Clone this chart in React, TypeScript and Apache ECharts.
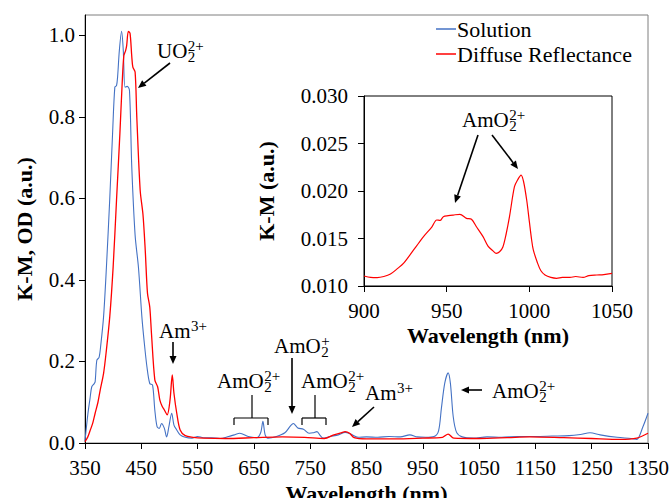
import React, { useEffect, useRef } from "react";
import * as echarts from "echarts";

const FONT = "Liberation Serif";

// Main panel: Solution (OD)
const solutionNm = [350, 355, 359, 362, 366, 368, 371, 375, 378, 383, 388, 394, 399, 403, 406, 408, 411, 415, 418, 421, 425, 429, 433, 439, 445, 451, 455, 460, 465, 470, 474, 478, 482, 486, 491, 495, 499, 504, 508, 513, 519, 528, 540, 550, 560, 575, 590, 605, 615, 625, 640, 655, 662, 666, 670, 675, 690, 705, 715, 720, 728, 738, 748, 755, 762, 768, 773, 785, 800, 812, 822, 835, 850, 870, 890, 910, 927, 940, 955, 970, 978, 983, 989, 995, 999, 1004, 1010, 1020, 1040, 1064, 1090, 1120, 1150, 1180, 1210, 1230, 1247, 1265, 1295, 1320, 1330, 1341, 1350];
const solutionValue = [0.005, 0.07, 0.11, 0.138, 0.145, 0.15, 0.203, 0.21, 0.24, 0.31, 0.43, 0.6, 0.76, 0.873, 0.877, 0.9, 0.963, 1.01, 0.963, 0.873, 0.875, 0.865, 0.68, 0.51, 0.43, 0.31, 0.25, 0.187, 0.146, 0.142, 0.081, 0.04, 0.036, 0.048, 0.036, 0.015, 0.04, 0.073, 0.044, 0.032, 0.02, 0.014, 0.012, 0.016, 0.013, 0.013, 0.011, 0.016, 0.02, 0.024, 0.016, 0.013, 0.025, 0.053, 0.02, 0.012, 0.016, 0.025, 0.042, 0.048, 0.037, 0.034, 0.024, 0.025, 0.028, 0.018, 0.012, 0.016, 0.02, 0.026, 0.022, 0.014, 0.015, 0.014, 0.016, 0.015, 0.02, 0.015, 0.014, 0.016, 0.03, 0.085, 0.147, 0.172, 0.147, 0.065, 0.026, 0.015, 0.012, 0.015, 0.014, 0.016, 0.016, 0.017, 0.018, 0.021, 0.025, 0.02, 0.014, 0.011, 0.009, 0.04, 0.073];

// Main panel: Diffuse Reflectance (K-M)
const diffuseNm = [350, 355, 359, 364, 368, 373, 377, 383, 388, 394, 400, 406, 412, 416, 419, 422, 424, 427, 430, 433, 435, 439, 442, 448, 453, 457, 461, 465, 468, 474, 479, 483, 487, 491, 496, 501, 505, 508, 513, 519, 528, 542, 560, 600, 650, 700, 740, 775, 792, 805, 812, 820, 828, 850, 900, 950, 985, 995, 1005, 1050, 1100, 1140, 1200, 1250, 1300, 1330, 1350];
const diffuseValue = [0.003, 0.015, 0.03, 0.05, 0.073, 0.1, 0.13, 0.171, 0.228, 0.31, 0.432, 0.596, 0.76, 0.882, 0.95, 0.962, 0.975, 1.01, 1.005, 0.95, 0.922, 0.91, 0.8, 0.62, 0.56, 0.473, 0.367, 0.334, 0.27, 0.155, 0.138, 0.105, 0.09, 0.081, 0.069, 0.105, 0.167, 0.122, 0.073, 0.032, 0.018, 0.014, 0.012, 0.011, 0.013, 0.015, 0.014, 0.011, 0.02, 0.025, 0.028, 0.024, 0.013, 0.01, 0.01, 0.012, 0.014, 0.022, 0.012, 0.011, 0.013, 0.015, 0.013, 0.011, 0.009, 0.012, 0.024];

// Inset: Diffuse Reflectance 900-1050 nm
const insetNm = [900, 904, 908, 912, 916, 920, 924, 930, 933, 936, 941, 944, 946, 948, 951, 954, 958, 962, 965, 968, 972, 975, 978, 980, 982, 984, 986, 988, 991, 993, 995, 996.5, 998.4, 1000, 1001.4, 1002.4, 1005, 1007, 1009.5, 1013, 1016.5, 1020, 1024.6, 1028, 1032.5, 1036, 1040.8, 1045, 1050];
const insetValue = [0.01105, 0.0109, 0.01088, 0.011, 0.01126, 0.0118, 0.0124, 0.0138, 0.0145, 0.0152, 0.0162, 0.01695, 0.0169, 0.0173, 0.0174, 0.01747, 0.01755, 0.01712, 0.01702, 0.01624, 0.0152, 0.0142, 0.0137, 0.01344, 0.0136, 0.0141, 0.0155, 0.0173, 0.02045, 0.0212, 0.02168, 0.021, 0.01905, 0.0168, 0.01484, 0.0138, 0.0124, 0.0116, 0.01116, 0.0109, 0.01081, 0.0109, 0.0109, 0.011, 0.0109, 0.0111, 0.01116, 0.0112, 0.01133];

const mainYTicks = [0, 0.2, 0.4, 0.6, 0.8, 1.0];
const seriesNames = ["Solution", "Diffuse Reflectance"];

const zip = (xs: number[], ys: number[]) => xs.map((x, i) => [x, ys[i]]);

function measure(text: string, size: number) {
  const c = document.createElement("canvas").getContext("2d");
  if (!c) return text.length * size * 0.5;
  c.font = `${size}px "${FONT}"`;
  return c.measureText(text).width;
}

function chem(x: number, baseline: number, base: string, sub: string, sup: string, size = 21) {
  const small = 15;
  const w = measure(base, size);
  const els: any[] = [
    { type: "text", x, y: baseline - 0.33 * size, style: { text: base, fontFamily: FONT, fontSize: size, fill: "#000", align: "left", verticalAlign: "middle" } },
  ];
  if (sub) els.push({ type: "text", x: x + w + 0.5, y: baseline - 1, style: { text: sub, fontFamily: FONT, fontSize: small, fill: "#000", align: "left", verticalAlign: "middle" } });
  if (sup) els.push({ type: "text", x: x + w + 0.5, y: baseline - 12, style: { text: sup, fontFamily: FONT, fontSize: small, fill: "#000", align: "left", verticalAlign: "middle" } });
  return els;
}

function arrow(x1: number, y1: number, x2: number, y2: number) {
  const dx = x2 - x1, dy = y2 - y1;
  const len = Math.sqrt(dx * dx + dy * dy);
  const ux = dx / len, uy = dy / len;
  const hl = 8, hw = 3.5;
  const bx = x2 - ux * hl, by = y2 - uy * hl;
  return [
    { type: "line", shape: { x1, y1, x2: bx, y2: by }, style: { stroke: "#000", lineWidth: 1.6 } },
    { type: "polygon", shape: { points: [[x2, y2], [bx - uy * hw, by + ux * hw], [bx + uy * hw, by - ux * hw]] }, style: { fill: "#000" } },
  ];
}

function bracket(xl: number, xr: number, xm: number, y: number, yTop: number, yEnd: number) {
  return [
    { type: "line", shape: { x1: xl, y1: yEnd, x2: xl, y2: y }, style: { stroke: "#000", lineWidth: 1.2 } },
    { type: "line", shape: { x1: xl, y1: y, x2: xr, y2: y }, style: { stroke: "#000", lineWidth: 1.2 } },
    { type: "line", shape: { x1: xr, y1: y, x2: xr, y2: yEnd }, style: { stroke: "#000", lineWidth: 1.2 } },
    { type: "line", shape: { x1: xm, y1: y, x2: xm, y2: yTop }, style: { stroke: "#000", lineWidth: 1.2 } },
  ];
}

export default function App() {
  const ref = useRef<HTMLDivElement>(null);
  useEffect(() => {
    if (!ref.current) return;
    const chart = echarts.init(ref.current, undefined, { renderer: "svg" });
    const axisText = { fontFamily: FONT, fontSize: 21, color: "#000" };
    const nameText = { fontFamily: FONT, fontSize: 22, fontWeight: "bold" as const, color: "#000" };
    const blackLine = { lineStyle: { color: "#000", width: 1 } };

    const graphic: any[] = [
      ...chem(157, 58, "UO", "2", "2+"),
      ...arrow(170, 63, 138, 88),
      ...chem(159, 338, "Am", "", "3+"),
      ...arrow(173, 342, 173, 364),
      ...chem(274, 353, "AmO", "2", "+"),
      ...arrow(292, 358, 292, 414),
      ...chem(217, 388, "AmO", "2", "2+"),
      ...bracket(234, 268, 252, 418, 395, 425),
      ...chem(301, 388, "AmO", "2", "2+"),
      ...bracket(302, 326, 315, 418, 395, 425),
      ...chem(365, 400, "Am", "", "3+"),
      ...arrow(374, 407, 352, 427),
      ...chem(492, 398, "AmO", "2", "2+"),
      ...arrow(482, 390, 461, 390),
      ...chem(462, 127, "AmO", "2", "2+"),
      ...arrow(478, 135, 455, 203),
      ...arrow(492, 135, 518, 169),
    ];

    chart.setOption({
      animation: false,
      backgroundColor: "#fff",
      textStyle: { fontFamily: FONT },
      legend: {
        data: seriesNames,
        orient: "vertical",
        left: 431,
        top: 13,
        icon: "rect",
        itemWidth: 20,
        itemHeight: 1.5,
        itemGap: 3,
        textStyle: { fontFamily: FONT, fontSize: 22, color: "#000", lineHeight: 22, padding: [0, 0, 0, -4] },
      },
      grid: [
        { left: 85, top: 15, width: 563, height: 428, show: true, borderColor: "#7f7f7f", borderWidth: 1, backgroundColor: "transparent", outerBoundsMode: "none", containLabel: false },
        { left: 364, top: 96, width: 248, height: 190, show: true, borderColor: "#000", borderWidth: 1, backgroundColor: "#fff", outerBoundsMode: "none", containLabel: false },
      ],
      xAxis: [
        {
          gridIndex: 0, type: "value", min: 350, max: 1350, interval: 100,
          axisLine: blackLine, axisTick: { length: 6, lineStyle: { color: "#000" } },
          axisLabel: { ...axisText, margin: 14, formatter: (v: number) => String(v) }, splitLine: { show: false },
          name: "Wavelength (nm)", nameLocation: "middle", nameGap: 31, nameTextStyle: nameText,
        },
        {
          gridIndex: 1, type: "value", min: 900, max: 1050, interval: 50,
          axisLine: blackLine, axisTick: { length: 6, lineStyle: { color: "#000" } },
          axisLabel: { ...axisText, margin: 14, formatter: (v: number) => String(v) }, splitLine: { show: false },
          name: "Wavelength (nm)", nameLocation: "middle", nameGap: 38, nameTextStyle: nameText,
        },
      ],
      yAxis: [
        {
          gridIndex: 0, type: "value", min: 0, max: 1.05,
          axisLine: { show: true, ...blackLine }, axisTick: { show: true, length: 6, lineStyle: { color: "#000" }, customValues: mainYTicks },
          axisLabel: { ...axisText, margin: 10, customValues: mainYTicks, formatter: (v: number) => v.toFixed(1) },
          splitLine: { show: false },
          name: "K-M, OD (a.u.)", nameLocation: "middle", nameGap: 50, nameTextStyle: nameText,
        },
        {
          gridIndex: 1, type: "value", min: 0.01, max: 0.03, interval: 0.005,
          axisLine: { show: true, ...blackLine }, axisTick: { show: true, length: 6, lineStyle: { color: "#000" } },
          axisLabel: { ...axisText, margin: 16, formatter: (v: number) => v.toFixed(3) },
          splitLine: { show: false },
          name: "K-M (a.u.)", nameLocation: "middle", nameGap: 87, nameTextStyle: nameText,
        },
      ],
      series: [
        {
          name: "Solution", type: "line", xAxisIndex: 0, yAxisIndex: 0, data: zip(solutionNm, solutionValue),
          showSymbol: false, smooth: 0.3, color: "#4472C4", lineStyle: { color: "#4472C4", width: 1.1 },
        },
        {
          name: "Diffuse Reflectance", type: "line", xAxisIndex: 0, yAxisIndex: 0, data: zip(diffuseNm, diffuseValue),
          showSymbol: false, smooth: 0.3, color: "#FF0000", lineStyle: { color: "#FF0000", width: 1.3 },
        },
        {
          name: "Diffuse Reflectance (inset)", type: "line", xAxisIndex: 1, yAxisIndex: 1, data: zip(insetNm, insetValue),
          showSymbol: false, smooth: 0.3, color: "#FF0000", lineStyle: { color: "#FF0000", width: 1.2 },
        },
      ],
      graphic,
    });
    return () => chart.dispose();
  }, []);
  return <div ref={ref} style={{ position: "fixed", left: 0, top: 0, width: 671, height: 498 }} />;
}
